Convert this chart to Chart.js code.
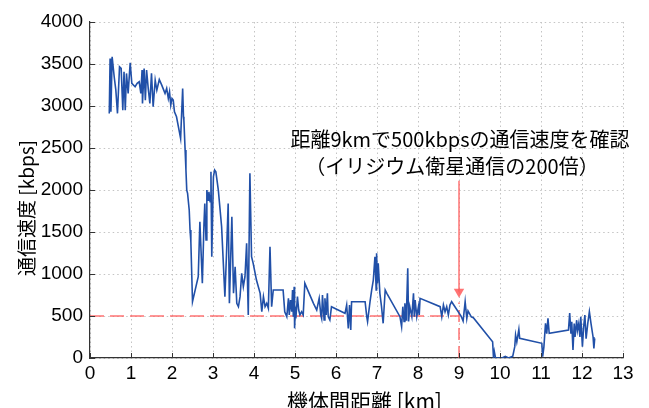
<!DOCTYPE html>
<html lang="ja">
<head>
  <meta charset="UTF-8" />
  <title>機体間距離と通信速度</title>
  <script src="https://cdn.jsdelivr.net/npm/chart.js"></script>
  <style>
    html, body { margin: 0; padding: 0; background: #fff; }
    #wrap { width: 649px; height: 408px; }
  </style>
</head>
<body>
  <div id="wrap"><canvas id="speedChart" width="649" height="408"></canvas></div>
  <script>
    // measured link speed vs. distance between the two aircraft
    const distKm = [
      0.47, 0.49, 0.51, 0.54, 0.59, 0.63, 0.67, 0.72, 0.76, 0.80, 0.83, 0.86, 0.89, 0.93, 0.98,
      1.02, 1.10, 1.15, 1.20, 1.24, 1.27, 1.28, 1.32, 1.35, 1.38, 1.42, 1.46, 1.50, 1.54, 1.59,
      1.63, 1.69, 1.75, 1.83, 1.87, 1.91, 1.94, 1.97, 2.00, 2.03, 2.06, 2.11, 2.18, 2.21, 2.26,
      2.28, 2.29, 2.32, 2.34, 2.36, 2.38, 2.42, 2.44, 2.46, 2.50,
      2.64, 2.68, 2.74, 2.78, 2.80, 2.83, 2.85, 2.88, 2.90, 2.93, 2.95, 2.97, 3.01, 3.04, 3.07,
      3.13, 3.21, 3.29, 3.33, 3.37, 3.40, 3.43, 3.46, 3.50, 3.54, 3.58, 3.62, 3.66, 3.70, 3.74,
      3.78, 3.82, 3.86, 3.90, 3.94, 3.98, 4.06, 4.15, 4.19, 4.23, 4.27, 4.31, 4.35, 4.39, 4.43,
      4.47,
      4.71, 4.75, 4.80, 4.84, 4.86, 4.89, 4.92, 4.94, 4.96, 4.98, 4.99, 5.01, 5.02, 5.06, 5.09,
      5.12, 5.16, 5.20, 5.24, 5.45, 5.53, 5.59, 5.63, 5.65, 5.67, 5.71, 5.73, 5.76, 5.79, 5.81,
      5.85, 5.89, 6.14, 6.22, 6.26, 6.30, 6.33, 6.36, 6.38, 6.71, 6.75, 6.77, 6.83, 6.87, 6.91,
      6.95, 6.98, 6.99, 7.01, 7.03, 7.07, 7.11, 7.15, 7.20, 7.24,
      7.56, 7.60, 7.63, 7.66, 7.68, 7.71, 7.72, 7.75, 7.77, 7.80, 7.85, 7.89, 7.91, 7.93, 7.97,
      8.01, 8.03, 8.05, 8.54, 8.58, 8.62, 8.66, 8.70, 8.74, 8.78, 8.82,
      9.05, 9.10, 9.15, 9.19, 9.22, 9.30, 9.35,
      9.82, 9.84, 9.86, 9.89, 10.05, 10.13, 10.21, 10.31, 10.36, 10.38, 10.41, 10.46, 10.48,
      11.02, 11.04, 11.07, 11.11, 11.14, 11.17, 11.20,
      11.67, 11.70, 11.73, 11.75, 11.78, 11.81, 11.83, 11.87, 11.89, 11.92, 11.95, 11.97, 12.01,
      12.04, 12.07, 12.10, 12.14, 12.18, 12.22, 12.27, 12.29, 12.31
    ];
    const speedKbps = [
      2912, 3566, 2931, 3586, 3348, 3189, 2912, 3467, 3447, 2951, 3407, 2951, 3388, 3150, 3514,
      3269, 3229, 3269, 3288, 3150, 3427, 3031, 3447, 3070, 3427, 3209, 3031, 3388, 2991, 3308,
      3189, 3316, 3249, 3150, 3209, 3090, 3169, 3011, 3090, 3070, 2931, 2872, 2693, 2614, 3209,
      2872, 2832, 2475, 2237, 1999, 1960, 1761, 1523, 1384, 670,
      968, 1622, 889, 1602, 1840, 1404, 1999, 1880, 1979, 1860, 2217, 1206, 2158, 2237, 2217,
      1999, 1563, 730, 1246, 1840, 651, 1166, 1682, 770, 1087, 651, 611, 730, 1008, 849,
      968, 1365, 512, 2198, 1206, 1127, 928, 770, 551, 730, 611, 651, 591, 1325, 611,
      809,
      809, 551, 492, 710, 512, 690, 551, 809, 492, 849, 353, 611, 472, 730, 571,
      512, 551, 512, 889, 651, 571, 710, 512, 472, 750, 452, 710, 512, 770, 492,
      452, 611, 551, 532, 631, 353, 631, 333, 670, 670, 492, 432, 670, 809, 928,
      1206, 809, 1246, 889, 1127, 770, 611, 413, 809, 770,
      492, 373, 611, 436, 651, 452, 571, 1067, 436, 611, 492, 770, 492, 690, 492,
      611, 512, 710, 611, 492, 631, 551, 611, 512, 631, 670,
      500, 440, 670, 470, 560, 490, 480,
      194, 15, 80, 0, 0, 20, 0, 20, 135, 274, 190, 341, 234,
      175, 15, 130, 412, 290, 472, 294,
      333, 536, 290, 430, 95, 410, 250, 450, 330, 410, 250, 490, 135,
      370, 512, 230, 410, 552, 410, 250, 115, 234
    ];

    const xTicks = [0, 1, 2, 3, 4, 5, 6, 7, 8, 9, 10, 11, 12, 13];
    const yTicks = [0, 500, 1000, 1500, 2000, 2500, 3000, 3500, 4000];
    const xTitle = '機体間距離 [km]';
    const yTitle = '通信速度 [kbps]';
    const noteLines = ['距離9kmで500kbpsの通信速度を確認', '（イリジウム衛星通信の200倍）'];
    const noteKbps = [2600, 2280];

    // marked point and arrow
    const markKm = 9;
    const markKbps = 500;
    const arrowTopKbps = 2110;
    const arrowTipKbps = 790;
    const dashTopKbps = 660;

    const red = 'rgba(255, 90, 90, 0.85)';
    const blue = '#2150a8';
    const cjkFont = '"Noto Sans CJK JP", "Noto Sans CJK SC", sans-serif';
    const numFont = '"Liberation Sans", Arial, sans-serif';

    const speedPoints = distKm.map((x, i) => ({ x: x, y: speedKbps[i] }));

    const figureText = {
      id: 'figureText',
      afterDraw(chart) {
        const ctx = chart.ctx;
        const xs = chart.scales.x;
        const ys = chart.scales.y;
        const area = chart.chartArea;
        ctx.save();

        // inward tick marks
        ctx.strokeStyle = '#333';
        ctx.lineWidth = 1;
        ctx.beginPath();
        xTicks.forEach(v => {
          const px = Math.round(xs.getPixelForValue(v)) + 0.5;
          ctx.moveTo(px, area.bottom);
          ctx.lineTo(px, area.bottom - 5);
        });
        yTicks.forEach(v => {
          const py = Math.round(ys.getPixelForValue(v)) + 0.5;
          ctx.moveTo(area.left, py);
          ctx.lineTo(area.left + 5, py);
        });
        ctx.stroke();

        // axis titles
        ctx.fillStyle = '#000';
        ctx.textAlign = 'center';
        ctx.textBaseline = 'middle';
        ctx.font = '21px ' + cjkFont;
        ctx.fillText(xTitle, (area.left + area.right) / 2 + 8, 401);
        ctx.font = '19px ' + cjkFont;
        ctx.save();
        ctx.translate(27, (area.top + area.bottom) / 2 + 18);
        ctx.rotate(-Math.PI / 2);
        ctx.fillText(yTitle, 0, 0);
        ctx.restore();

        // annotation
        ctx.font = '20px ' + cjkFont;
        const cx = xs.getPixelForValue(markKm);
        ctx.fillText(noteLines[0], cx + 1, ys.getPixelForValue(noteKbps[0]));
        ctx.fillText(noteLines[1], cx - 7, ys.getPixelForValue(noteKbps[1]));
        ctx.restore();
      }
    };

    new Chart(document.getElementById('speedChart'), {
      type: 'line',
      data: {
        datasets: [
          {
            label: '通信速度',
            data: speedPoints,
            borderColor: blue,
            borderWidth: 1.6,
            pointRadius: 0,
            tension: 0
          },
          {
            label: '500kbps',
            data: [{ x: 0, y: markKbps }, { x: markKm, y: markKbps }],
            borderColor: red,
            borderWidth: 1.5,
            borderDash: [14, 6],
            pointRadius: 0
          },
          {
            label: '9km',
            data: [{ x: markKm, y: 0 }, { x: markKm, y: dashTopKbps }],
            borderColor: red,
            borderWidth: 1.5,
            borderDash: [12, 6],
            pointRadius: 0
          },
          {
            label: 'arrow',
            data: [{ x: markKm, y: arrowTopKbps }, { x: markKm, y: arrowTipKbps }],
            borderColor: red,
            borderWidth: 1.5,
            pointRadius: [0, 6],
            pointStyle: 'triangle',
            pointRotation: 180,
            pointBackgroundColor: red,
            pointBorderWidth: 0
          }
        ]
      },
      options: {
        responsive: false,
        animation: false,
        events: [],
        layout: { padding: { top: 22, right: 26, left: 0, bottom: 0 } },
        plugins: {
          legend: { display: false },
          tooltip: { enabled: false }
        },
        scales: {
          x: {
            type: 'linear',
            min: 0,
            max: 13,
            afterBuildTicks: s => { s.ticks = xTicks.map(v => ({ value: v })); },
            afterFit: s => { s.height = 50; },
            grid: { color: '#c4c4c4', lineWidth: 1, drawTicks: false },
            border: { display: true, color: '#333', width: 1.2, dash: [1.5, 3] },
            ticks: {
              padding: 4,
              autoSkip: false,
              maxRotation: 0,
              color: '#000',
              callback: v => String(v),
              font: { family: numFont, size: 19 }
            }
          },
          y: {
            min: 0,
            max: 4000,
            afterBuildTicks: s => { s.ticks = yTicks.map(v => ({ value: v })); },
            afterFit: s => { s.width = 90; },
            grid: { color: '#c4c4c4', lineWidth: 1, drawTicks: false },
            border: { display: true, color: '#333', width: 1.2, dash: [1.5, 3] },
            ticks: {
              padding: 7,
              color: '#000',
              callback: v => String(v),
              font: { family: numFont, size: 19 }
            }
          }
        }
      },
      plugins: [figureText]
    });
  </script>
</body>
</html>
